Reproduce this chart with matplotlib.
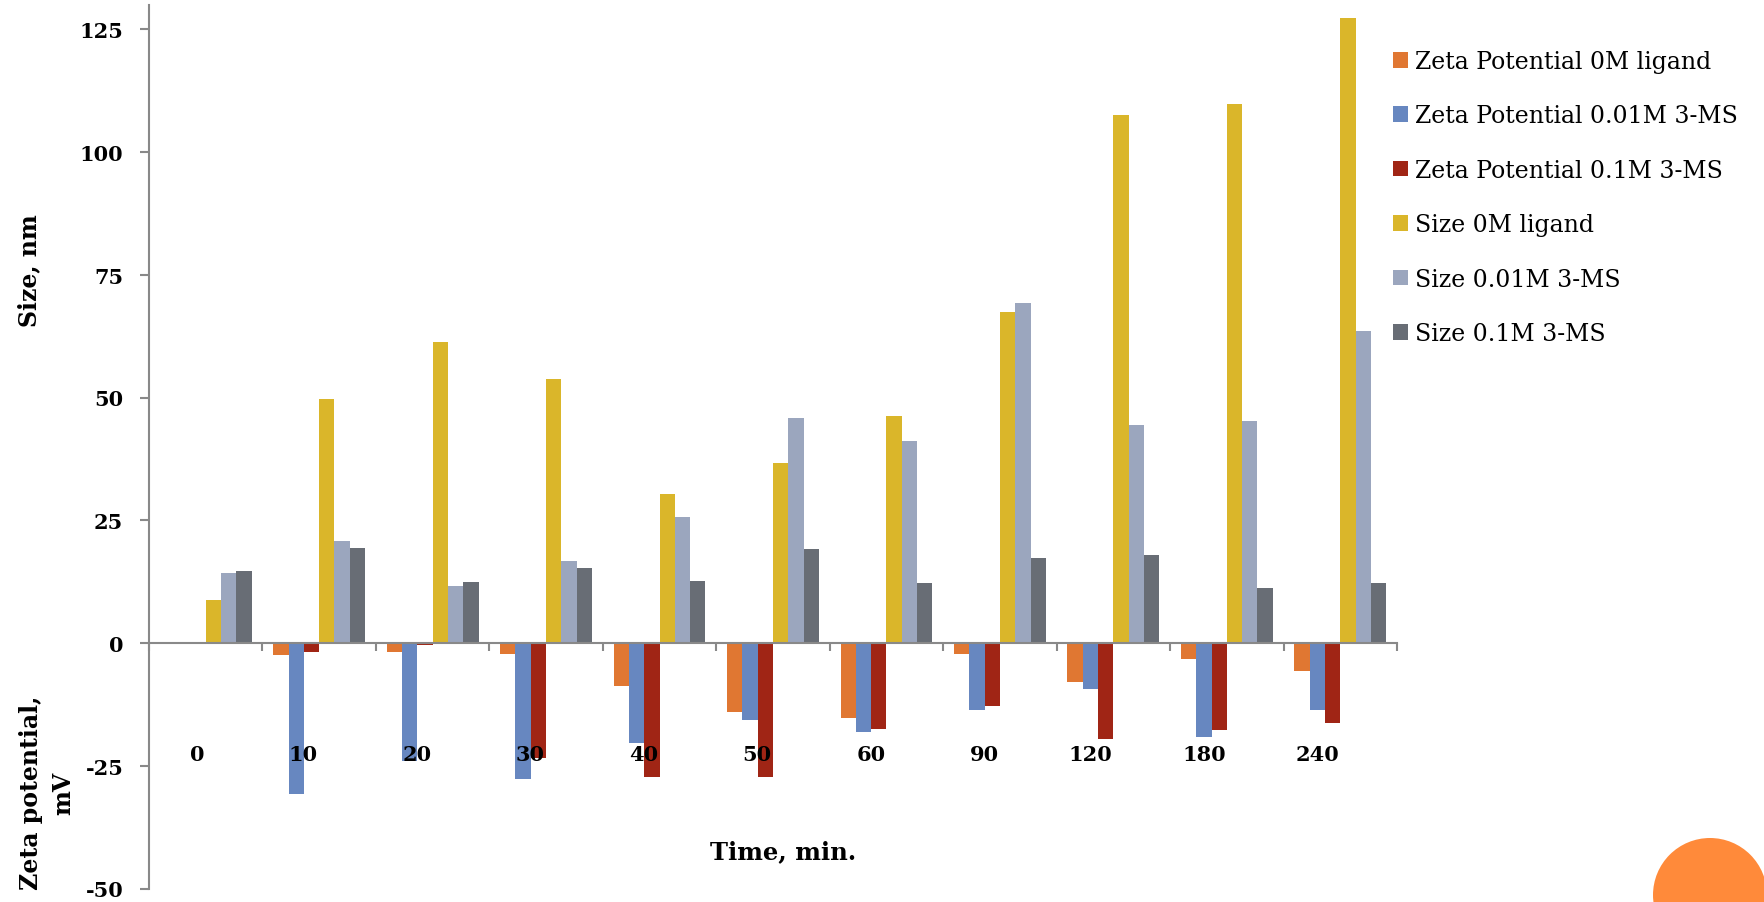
import numpy as np
import matplotlib
matplotlib.use("Agg")
import matplotlib.pyplot as plt
from matplotlib.patches import Circle

plt.rcParams["axes.unicode_minus"] = False

# Sampling times (min)
times = ["0", "10", "20", "30", "40", "50", "60", "90", "120", "180", "240"]

# Zeta potential (mV)
zeta_0m = [np.nan, -2.4, -1.9, -2.2, -8.7, -14.1, -15.2, -2.2, -7.9, -3.2, -5.8]
zeta_001m = [np.nan, -30.8, -24.1, -27.7, -20.4, -15.7, -18.1, -13.6, -9.4, -19.1, -13.6]
zeta_01m = [np.nan, -1.9, -0.5, -23.5, -27.2, -27.2, -17.5, -12.8, -19.6, -17.7, -16.2]

# Particle size (nm)
size_0m = [8.7, 49.6, 61.4, 53.8, 30.4, 36.7, 46.3, 67.4, 107.6, 109.7, 127.2]
size_001m = [14.2, 20.7, 11.6, 16.8, 25.7, 45.8, 41.1, 69.2, 44.3, 45.3, 63.5]
size_01m = [14.7, 19.4, 12.4, 15.3, 12.7, 19.2, 12.2, 17.4, 17.9, 11.1, 12.2]

series = [
    ("Zeta Potential 0M ligand", zeta_0m, "#E07732"),
    ("Zeta Potential 0.01M 3-MS", zeta_001m, "#6787C0"),
    ("Zeta Potential 0.1M 3-MS", zeta_01m, "#A02515"),
    ("Size 0M ligand", size_0m, "#DAB62A"),
    ("Size 0.01M 3-MS", size_001m, "#9BA6BE"),
    ("Size 0.1M 3-MS", size_01m, "#686D75"),
]

W, H = 1764, 903
fig = plt.figure(figsize=(W / 100, H / 100), dpi=100)
fig.patch.set_facecolor("white")

ax = fig.add_axes([149 / W, 13.5 / H, 1248 / W, 883.8 / H])

x = np.arange(len(times))
bw = 0.135
handles = []
for i, (name, vals, col) in enumerate(series):
    b = ax.bar(x + (i - 2.5) * bw, vals, width=bw, color=col, label=name,
               linewidth=0, zorder=2)
    handles.append(b)

ax.set_xlim(-0.5, len(times) - 0.5)
ax.set_ylim(-50, 130)
ax.set_yticks(np.arange(-50, 126, 25))

axis_col = "#898989"
for s in ["top", "right"]:
    ax.spines[s].set_visible(False)
ax.spines["left"].set_color(axis_col)
ax.spines["left"].set_linewidth(1.5)
ax.spines["bottom"].set_position(("data", 0))
ax.spines["bottom"].set_color(axis_col)
ax.spines["bottom"].set_linewidth(1.5)
ax.spines["bottom"].set_zorder(3)

ax.set_xticks([])
ax.set_xticks(np.arange(-0.5, len(times), 1), minor=True)
ax.tick_params(axis="x", which="minor", direction="out", length=6,
               width=1.5, color=axis_col)
ax.tick_params(axis="y", direction="out", length=6.5, width=1.5,
               color=axis_col, pad=12)

serif_bold = dict(family="DejaVu Serif", weight="bold")
for lab in ax.get_yticklabels():
    lab.set_fontfamily("DejaVu Serif")
    lab.set_fontweight("bold")
    lab.set_fontsize(15)

# Category labels under the bars
for xi, t in zip(x, times):
    ax.text(xi - 0.01, -23.8, t, ha="right", va="baseline", fontsize=15,
            **serif_bold)

fig.text(29 / W, 1 - 271 / H, "Size, nm", rotation=90, ha="center",
         va="center", fontsize=17, **serif_bold)
fig.text(47 / W, 1 - 793 / H, "Zeta potential,\nmV", rotation=90,
         ha="center", va="center", fontsize=17, multialignment="center",
         linespacing=1.4, **serif_bold)
fig.text(783 / W, 1 - 852 / H, "Time, min.", ha="center", va="center",
         fontsize=17.5, **serif_bold)

fig.legend(handles=handles, loc="upper left",
           bbox_to_anchor=(1393 / W, 1 - 51 / H), frameon=False,
           prop=dict(family="DejaVu Serif", size=17),
           handlelength=0.64, handleheight=0.64, handletextpad=0.3,
           labelspacing=1.33, borderpad=0, borderaxespad=0)

# Decorative circle in the lower right corner
circ = Circle((17.10, 0.07), 0.57, transform=fig.dpi_scale_trans,
              facecolor="#FF8A3A", edgecolor="none", clip_on=False)
fig.patches.append(circ)

fig.savefig("out.png", dpi=100)
